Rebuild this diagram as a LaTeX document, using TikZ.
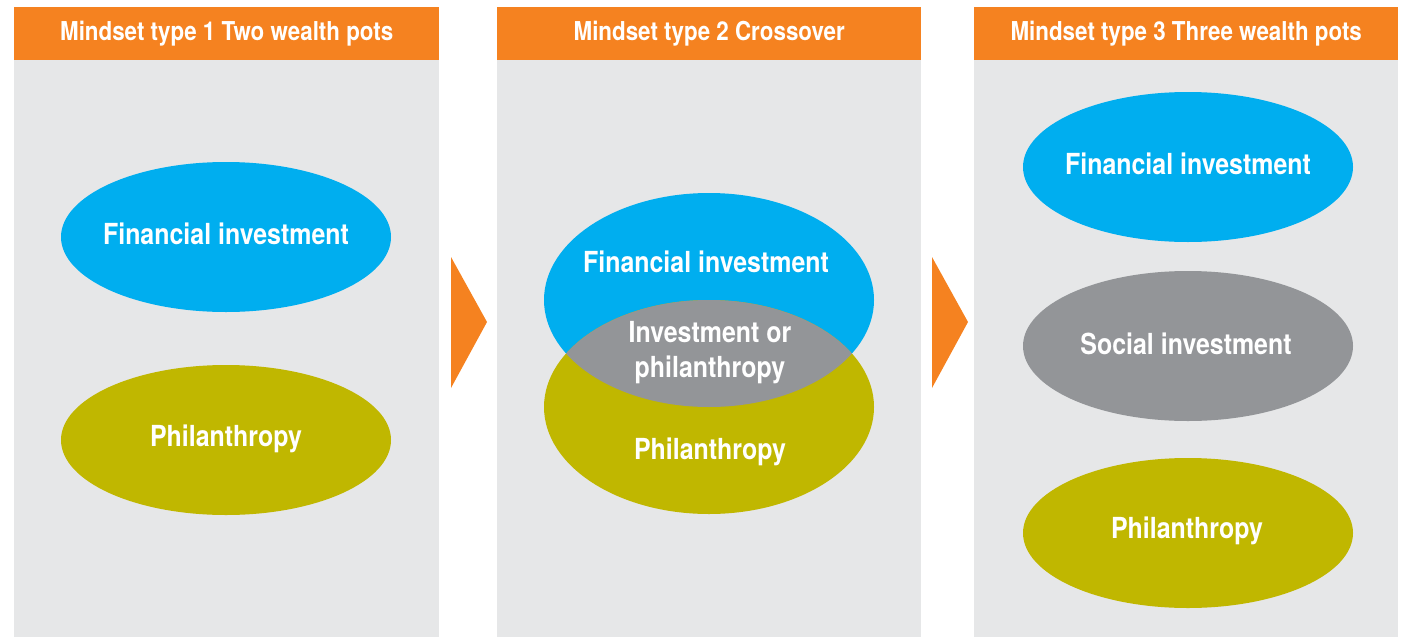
\documentclass[tikz,border=0pt]{standalone}
\usepackage{fontspec}
\setmainfont{TeX Gyre Heros}[FakeStretch=0.86]
\usetikzlibrary{shapes.geometric}
\definecolor{orng}{HTML}{F58220}
\definecolor{fiblue}{HTML}{00AEEF}
\definecolor{olive}{HTML}{C0B700}
\definecolor{midgray}{HTML}{939598}
\definecolor{panelgray}{HTML}{E6E7E8}
\tikzset{
  header/.style={fill=orng, draw=none, minimum width=425pt, minimum height=53pt, inner sep=0pt, anchor=north west, text=white, font=\bfseries\fontsize{26}{30}\selectfont},
  panel/.style={fill=panelgray, draw=none},
  pot/.style={ellipse, draw=none, minimum width=330pt, minimum height=150pt, inner sep=0pt, text=white, font=\bfseries\fontsize{29}{34}\selectfont, align=center},
  label/.style={text=white, font=\bfseries\fontsize{29}{35}\selectfont, align=center, inner sep=0pt},
  arrowtri/.style={fill=orng, draw=none}
}
\begin{document}
\begin{tikzpicture}[x=1pt,y=-1pt]
\useasboundingbox (0,0) rectangle (1402,637);
% panels
\fill[panel] (14,60) rectangle (439,637);
\fill[panel] (497,60) rectangle (921,637);
\fill[panel] (974,60) rectangle (1398,637);
\node[header] (h1) at (14,7) {Mindset type 1 Two wealth pots};
\node[header, minimum width=424pt] (h2) at (497,7) {Mindset type 2 Crossover};
\node[header, minimum width=424pt] (h3) at (974,7) {Mindset type 3 Three wealth pots};
% arrows
\fill[arrowtri] (451,257) -- (487,322) -- (451,388) -- cycle;
\fill[arrowtri] (932,257) -- (968,322) -- (932,388) -- cycle;
% panel 1
\node[pot, fill=fiblue] (p1fi) at (226,237) {};
\node[label] (t1fi) at (226,234) {Financial investment};
\node[pot, fill=olive] (p1ph) at (226,440) {};
\node[label] (t1ph) at (226,439) {Philanthropy};
% panel 2
\fill[fiblue] (709,300) ellipse [x radius=165, y radius=107];
\fill[olive] (709,407) ellipse [x radius=165, y radius=107];
\begin{scope}
  \clip (709,300) ellipse [x radius=165, y radius=107];
  \fill[midgray] (709,407) ellipse [x radius=165, y radius=107];
\end{scope}
\node[label] (p2fi) at (706,262) {Financial investment};
\node[label] (p2mix) at (710,353) {Investment or\\philanthropy};
\node[label] (p2ph) at (710,452) {Philanthropy};
% panel 3
\node[pot, fill=fiblue] (p3fi) at (1188,167) {};
\node[label] (t3fi) at (1188,164) {Financial investment};
\node[pot, fill=midgray] (p3si) at (1188,346) {};
\node[label] (t3si) at (1186,344) {Social investment};
\node[pot, fill=olive] (p3ph) at (1188,533) {};
\node[label] (t3ph) at (1187,531) {Philanthropy};
\end{tikzpicture}
\end{document}
